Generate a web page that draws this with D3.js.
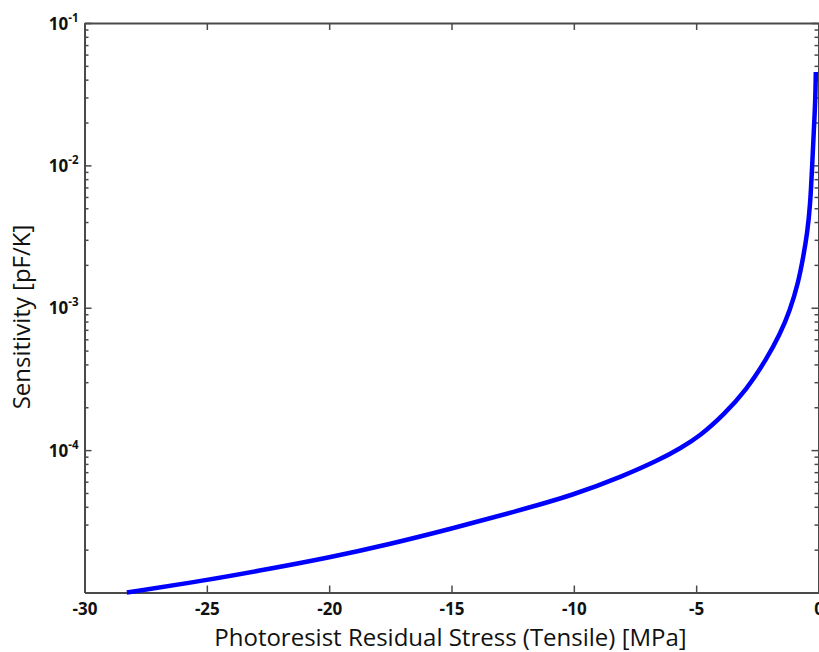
<!DOCTYPE html>
<html>
<head>
<meta charset="utf-8">
<script src="https://cdn.jsdelivr.net/npm/d3@7"></script>
<style>
  body { margin: 0; background: #fff; }
  svg { display: block; }
  .axis path, .axis line { stroke: #4a4a4a; }
  .axis path { stroke-width: 2px; }
  .axis line { stroke-width: 1.5px; }
</style>
</head>
<body>
<div id="chart"></div>
<script>
// Data
var stress = [-28.27, -25, -22.5, -20, -17.5, -15, -12.5, -10, -8, -6.5, -5.63, -4.84, -3.89,
              -2.94, -2.12, -1.57, -1.17, -0.83, -0.62, -0.46, -0.34, -0.26, -0.19, -0.13, -0.11];
var sensitivity = [1.00e-5, 1.22e-5, 1.46e-5, 1.76e-5, 2.19e-5, 2.81e-5, 3.66e-5, 4.84e-5,
                   6.55e-5, 8.55e-5, 1.035e-4, 1.26e-4, 1.76e-4, 2.66e-4, 4.37e-4, 6.53e-4,
                   9.55e-4, 1.49e-3, 2.29e-3, 3.33e-3, 5.25e-3, 9.77e-3, 1.78e-2, 2.82e-2, 4.53e-2];

var xTicks = [-30, -25, -20, -15, -10, -5, 0];
var yDecades = [1e-1, 1e-2, 1e-3, 1e-4];
var yExponents = ["-1", "-2", "-3", "-4"];

var width = 819, height = 652;
var pLeft = 84.5, pRight = 818.5, pTop = 23, pBottom = 592.5;
var font = "'Open Sans', Lato, sans-serif";

var svg = d3.select("#chart").append("svg")
  .attr("width", width)
  .attr("height", height);

var x = d3.scaleLinear().domain([-30, 0]).range([pLeft, pRight]);
var y = d3.scaleLog().domain([1e-5, 1e-1]).range([pBottom, pTop]);

// minor ticks on the log axis (2..9 in each decade)
var minorTicks = y.ticks().filter(function(d) {
  var l = Math.log10(d);
  return Math.abs(l - Math.round(l)) > 1e-6;
});

// bottom axis
svg.append("g")
  .attr("class", "axis")
  .attr("transform", "translate(0," + pBottom + ")")
  .call(d3.axisBottom(x).tickValues(xTicks).tickSize(-7).tickSizeOuter(0).tickPadding(10)
    .tickFormat(function(d) { return d; }))
  .call(function(g) {
    g.selectAll("text")
      .style("font-family", font)
      .style("font-weight", "bold")
      .style("font-size", "17px")
      .attr("fill", "#111");
  });

// top axis
svg.append("g")
  .attr("class", "axis")
  .attr("transform", "translate(0," + pTop + ")")
  .call(d3.axisTop(x).tickValues(xTicks).tickSize(-7).tickSizeOuter(0).tickFormat(""));

// left axis, majors then minors
svg.append("g")
  .attr("class", "axis")
  .attr("transform", "translate(" + pLeft + ",0)")
  .call(d3.axisLeft(y).tickValues(yDecades).tickSize(-7).tickSizeOuter(0).tickFormat(""));
svg.append("g")
  .attr("class", "axis")
  .attr("transform", "translate(" + pLeft + ",0)")
  .call(d3.axisLeft(y).tickValues(minorTicks).tickSize(-4).tickSizeOuter(0).tickFormat(""))
  .call(function(g) { g.select(".domain").remove(); });

// right axis
svg.append("g")
  .attr("class", "axis")
  .attr("transform", "translate(" + pRight + ",0)")
  .call(d3.axisRight(y).tickValues(yDecades).tickSize(-7).tickSizeOuter(0).tickFormat(""));
svg.append("g")
  .attr("class", "axis")
  .attr("transform", "translate(" + pRight + ",0)")
  .call(d3.axisRight(y).tickValues(minorTicks).tickSize(-4).tickSizeOuter(0).tickFormat(""))
  .call(function(g) { g.select(".domain").remove(); });

// y tick labels 10^-n
var ylab = svg.append("g")
  .style("font-family", font)
  .style("font-weight", "bold")
  .attr("fill", "#111");
yDecades.forEach(function(d, i) {
  var t = ylab.append("text")
    .attr("x", pLeft - 6)
    .attr("y", y(d) + 6.5)
    .attr("text-anchor", "end");
  t.append("tspan").style("font-size", "17px").text("10");
  t.append("tspan").style("font-size", "11.5px").attr("dy", -8).text(yExponents[i]);
});

// curve
var line = d3.line()
  .x(function(d, i) { return x(stress[i]); })
  .y(function(d, i) { return y(sensitivity[i]); })
  .curve(d3.curveBasis);

svg.append("path")
  .datum(stress)
  .attr("d", line)
  .attr("fill", "none")
  .attr("stroke", "#0000ff")
  .attr("stroke-width", 4.5);

// axis titles
svg.append("text")
  .attr("x", 450.5)
  .attr("y", 645.5)
  .attr("text-anchor", "middle")
  .style("font-family", font)
  .style("font-size", "24px")
  .attr("fill", "#111")
  .text("Photoresist Residual Stress (Tensile) [MPa]");

svg.append("text")
  .attr("transform", "translate(30,317) rotate(-90)")
  .attr("text-anchor", "middle")
  .style("font-family", font)
  .style("font-size", "24px")
  .attr("fill", "#111")
  .text("Sensitivity [pF/K]");
</script>
</body>
</html>
